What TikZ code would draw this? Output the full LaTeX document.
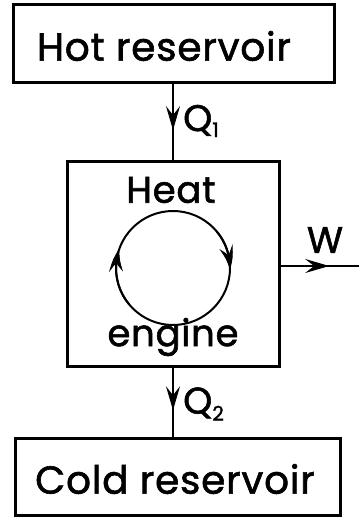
\documentclass[tikz,border=0pt]{standalone}
\usepackage{fontspec}
\setmainfont{Poppins}[LetterSpace=2,FakeBold=1.5]
\usetikzlibrary{arrows.meta,calc,bending}
\tikzset{
  box/.style={draw, line width=3pt, inner sep=0pt, font=\fontsize{39}{44}\selectfont},
  conn/.style={line width=2pt},
  tipa/.tip={Stealth[length=24pt,width=14pt,inset=9pt,line width=1pt]},
  lbl/.style={font=\fontsize{37}{42}\selectfont, inner sep=0pt},
}
\begin{document}
\begin{tikzpicture}[x=1pt,y=-1pt]
\useasboundingbox (0,0) rectangle (359,521);
\fill[white] (0,0) rectangle (359,521);
\node[box, minimum width=321pt, minimum height=78pt] (hot) at (173.5,44) {};
\node[lbl, font=\fontsize{39}{44}\selectfont] (hottext) at (164,46) {Hot reservoir};
\node[box, minimum width=212pt, minimum height=204pt] (engine) at (173,264) {};
\node[box, minimum width=325pt, minimum height=77pt] (cold) at (177.5,476.5) {};
\node[lbl, font=\fontsize{39}{44}\selectfont] (coldtext) at (175,479) {Cold reservoir};
\node[lbl] (heat) at (171,190) {Heat};
\node[lbl] (eng) at (173,337) {engine};
% cycle
\coordinate (cyc) at (173,268);
\draw[conn] (cyc) ++(-90:57) arc[start angle=-90, end angle=270, radius=57];
\draw[conn, -{tipa[bend]}] (cyc) ++(-40:57) arc[start angle=-40, end angle=2, radius=57];
\draw[conn, -{tipa[bend]}] (cyc) ++(140:57) arc[start angle=140, end angle=200, radius=57];
% connectors
\coordinate (wend) at (359,266);
\coordinate (a1) at (hot.south -| engine.north);
\coordinate (a2) at (engine.south |- cold.north);
\coordinate (a3) at (engine.east |- wend);
\draw[conn] (a1) -- (engine.north);
\draw[conn, -{tipa}] (a1) -- ($(a1)!0.6!(engine.north)$);
\draw[conn] (engine.south) -- (a2);
\draw[conn, -{tipa}] (engine.south) -- ($(engine.south)!0.62!(a2)$);
\draw[conn] (a3) -- (wend);
\draw[conn, -{tipa}] (a3) -- ($(a3)!0.62!(wend)$);
\node[lbl, anchor=west] (q1) at (183,121) {Q\raisebox{-6pt}{\fontsize{20}{22}\selectfont 1}};
\node[lbl, anchor=west] (q2) at (183,404) {Q\raisebox{-7pt}{\fontsize{20}{22}\selectfont 2}};
\node[lbl] (w) at (325,240) {W};
\end{tikzpicture}
\end{document}
